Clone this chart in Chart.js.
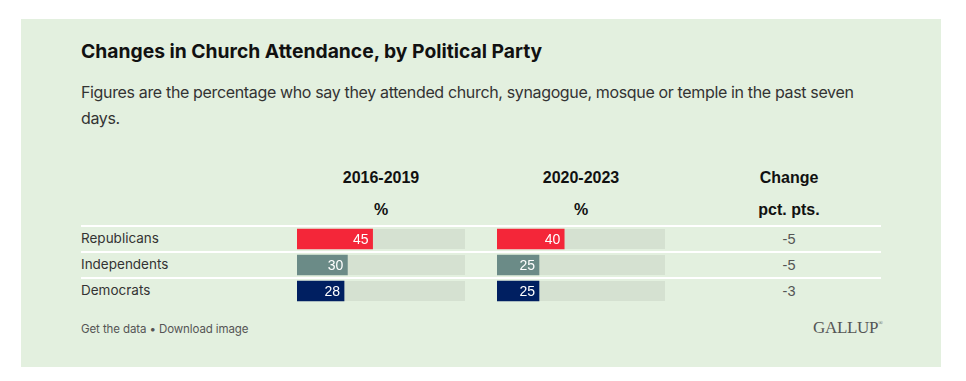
<!DOCTYPE html>
<html>
<head>
<meta charset="utf-8">
<script src="https://cdn.jsdelivr.net/npm/chart.js@4"></script>
<style>
  html, body { margin:0; padding:0; background:#ffffff; width:966px; height:381px; overflow:hidden; }
  #panel { position:absolute; left:21px; top:19px; width:920px; height:348px; background:#e3f0df; }
  .abs { position:absolute; white-space:nowrap; }
  #title { left:81px; top:39px; font-family:Inter, sans-serif; font-weight:700; font-size:19.3px; color:#111; }
  #subtitle { left:81px; top:79px; width:790px; white-space:normal; font-family:Inter, sans-serif; font-size:16px; letter-spacing:-0.35px; line-height:26px; color:#333; }
  .hdr { font-family:"Liberation Sans", Arial, sans-serif; font-weight:700; font-size:16px; color:#111; transform:translateX(-50%); }
  .sep { position:absolute; left:81px; width:800px; height:2px; background:#ffffff; }
  .rowlab { left:81px; font-family:Inter, sans-serif; font-size:13.5px; color:#333; }
  .chg { font-family:"Liberation Sans", Arial, sans-serif; font-size:14.5px; color:#555; transform:translateX(-50%); }
  .box { position:absolute; width:168px; height:78px; }
  #footer { left:81px; top:322px; font-family:Inter, sans-serif; font-size:11.5px; letter-spacing:-0.1px; color:#555; }
  #logo { left:813px; top:318px; font-family:"Liberation Serif", "Times New Roman", serif; font-size:17px; color:#555; letter-spacing:-0.3px; }
  #logo sup { font-size:6px; vertical-align:top; position:relative; top:2px; }
</style>
</head>
<body>
<div id="panel"></div>
<div id="title" class="abs">Changes in Church Attendance, by Political Party</div>
<div id="subtitle" class="abs">Figures are the percentage who say they attended church, synagogue, mosque or temple in the past seven days.</div>
<div class="abs hdr" style="left:381px; top:169px;">2016-2019</div>
<div class="abs hdr" style="left:381px; top:201px;">%</div>
<div class="abs hdr" style="left:581px; top:169px;">2020-2023</div>
<div class="abs hdr" style="left:581px; top:201px;">%</div>
<div class="abs hdr" style="left:789px; top:169px;">Change</div>
<div class="abs hdr" style="left:789px; top:201px;">pct. pts.</div>
<div id="rows"></div>
<div class="box" style="left:297px; top:226px;"><canvas id="c1"></canvas></div>
<div class="box" style="left:497px; top:226px;"><canvas id="c2"></canvas></div>
<div id="footer" class="abs">Get the data • Download image</div>
<div id="logo" class="abs">GALLUP<sup>®</sup></div>
<script>
const parties = ["Republicans", "Independents", "Democrats"];
const values2016_2019 = [45, 30, 28];
const values2020_2023 = [40, 25, 25];
const changePts = [-5, -5, -3];
const partyColors = ["#f42639", "#6b8b87", "#001f61"];
const trackColor = "#d5e1d1";

// rows: separators, labels, change values
const rows = document.getElementById('rows');
parties.forEach((p, i) => {
  const y = 226 + i * 26;
  const sep = document.createElement('div');
  sep.className = 'sep';
  sep.style.top = (y - 1) + 'px';
  rows.appendChild(sep);
  const lab = document.createElement('div');
  lab.className = 'abs rowlab';
  lab.style.top = (y + 4) + 'px';
  lab.textContent = p;
  rows.appendChild(lab);
  const c = document.createElement('div');
  c.className = 'abs chg';
  c.style.left = '789px';
  c.style.top = (y + 5) + 'px';
  c.textContent = String(changePts[i]);
  rows.appendChild(c);
});

const trackPlugin = {
  id: 'track',
  beforeDatasetsDraw(chart) {
    const ctx = chart.ctx;
    const xs = chart.scales.x;
    const x0 = xs.getPixelForValue(0), x1 = xs.getPixelForValue(100);
    ctx.save();
    ctx.fillStyle = trackColor;
    chart.getDatasetMeta(0).data.forEach(bar => {
      ctx.fillRect(x0, bar.y - bar.height / 2, x1 - x0, bar.height);
    });
    ctx.restore();
  }
};
const labelPlugin = {
  id: 'vals',
  afterDatasetsDraw(chart) {
    const ctx = chart.ctx;
    const ds = chart.data.datasets[0];
    ctx.save();
    ctx.fillStyle = '#ffffff';
    ctx.font = '14px "Liberation Sans", Arial, sans-serif';
    ctx.textAlign = 'right';
    ctx.textBaseline = 'middle';
    chart.getDatasetMeta(0).data.forEach((bar, i) => {
      ctx.fillText(String(ds.data[i]), bar.x - 4, bar.y + 1);
    });
    ctx.restore();
  }
};

function makeChart(id, vals) {
  new Chart(document.getElementById(id), {
    type: 'bar',
    data: {
      labels: parties,
      datasets: [{ data: vals, backgroundColor: partyColors, barThickness: 20, borderWidth: 0 }]
    },
    options: {
      indexAxis: 'y',
      responsive: true,
      maintainAspectRatio: false,
      animation: false,
      layout: { padding: 0 },
      scales: {
        x: { display: false, min: 0, max: 100 },
        y: { display: false }
      },
      plugins: { legend: { display: false }, tooltip: { enabled: false } }
    },
    plugins: [trackPlugin, labelPlugin]
  });
}
makeChart('c1', values2016_2019);
makeChart('c2', values2020_2023);
</script>
</body>
</html>
